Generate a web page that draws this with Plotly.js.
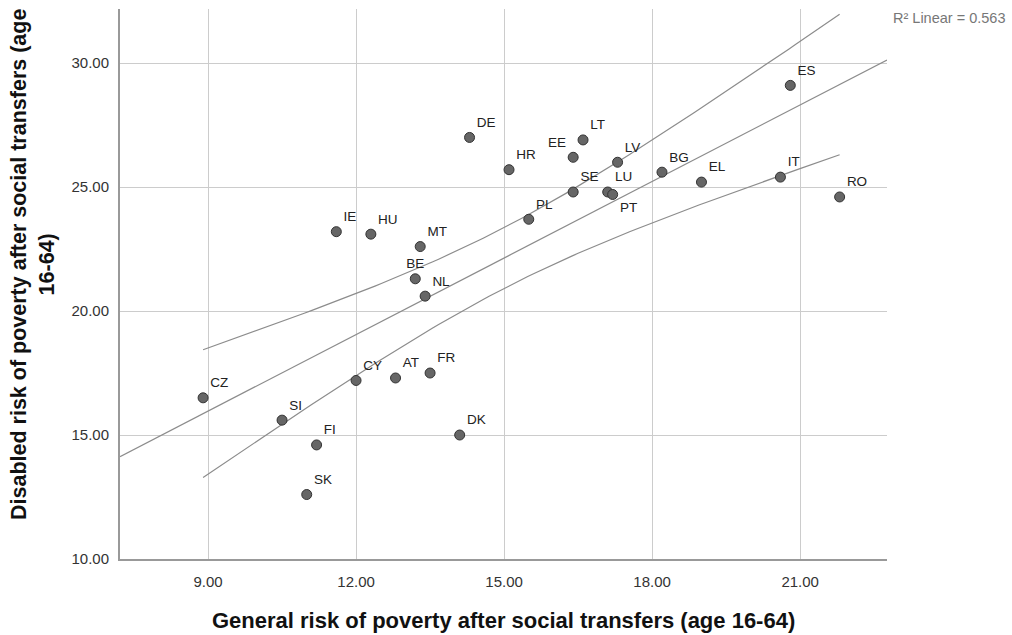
<!DOCTYPE html>
<html>
<head>
<meta charset="utf-8">
<script src="https://cdn.plot.ly/plotly-3.0.1.min.js"></script>
<style>html,body{margin:0;padding:0;background:#fff}#chart{width:1012px;height:635px}</style>
</head>
<body>
<div id="chart"></div>
<script>
const countries = ["CZ","SI","FI","SK","CY","AT","FR","DK","NL","BE","MT","IE","HU","DE","HR","EE","LT","LV","SE","PL","LU","PT","BG","EL","IT","ES","RO"];
const generalRisk = [8.9,10.5,11.2,11.0,12.0,12.8,13.5,14.1,13.4,13.2,13.3,11.6,12.3,14.3,15.1,16.4,16.6,17.3,16.4,15.5,17.1,17.2,18.2,19.0,20.6,20.8,21.8];
const disabledRisk = [16.5,15.6,14.6,12.6,17.2,17.3,17.5,15.0,20.6,21.3,22.6,23.2,23.1,27.0,25.7,26.2,26.9,26.0,24.8,23.7,24.8,24.7,25.6,25.2,25.4,29.1,24.6];
const labelPos = {PT:"bottom right", BE:"top center", EE:"top left"};
const xTicks = [9,12,15,18,21];
const yTicks = [10,15,20,25,30];
const xRange = [7.216, 22.76];
const yRange = [10, 32.18];

// least squares fit & 95% CI for mean
const n = generalRisk.length;
const xbar = generalRisk.reduce((a,b)=>a+b,0)/n;
const ybar = disabledRisk.reduce((a,b)=>a+b,0)/n;
let sxx=0, sxy=0;
for (let i=0;i<n;i++){ sxx += (generalRisk[i]-xbar)**2; sxy += (generalRisk[i]-xbar)*(disabledRisk[i]-ybar); }
const b1 = sxy/sxx, b0 = ybar - b1*xbar;
let sse=0; for (let i=0;i<n;i++){ sse += (disabledRisk[i]-b0-b1*generalRisk[i])**2; }
const s = Math.sqrt(sse/(n-2));
const tcrit = 2.060;
const xmin = Math.min(...generalRisk), xmax = Math.max(...generalRisk);
const bx=[], up=[], lo=[];
for (let k=0;k<=100;k++){
  const x = xmin + (xmax-xmin)*k/100;
  const h = tcrit*s*Math.sqrt(1/n + (x-xbar)**2/sxx);
  bx.push(x); up.push(b0+b1*x+h); lo.push(b0+b1*x-h);
}
const fx = [xRange[0], xRange[1]];
const fy = fx.map(x=>b0+b1*x);

const FONT = "Liberation Sans, Arial, sans-serif";
const lineStyle = {color:"#8c8c8c", width:1.2};
const traces = [
  {x:fx, y:fy, mode:"lines", line:lineStyle, hoverinfo:"skip"},
  {x:bx, y:up, mode:"lines", line:lineStyle, hoverinfo:"skip"},
  {x:bx, y:lo, mode:"lines", line:lineStyle, hoverinfo:"skip"},
  {x:generalRisk, y:disabledRisk, mode:"markers+text", text:countries,
   textposition: countries.map(c=>labelPos[c]||"top right"),
   textfont:{family:FONT, size:13.5, color:"#222"},
   marker:{size:10, color:"#666666", line:{color:"#333333", width:1}},
   cliponaxis:false}
];
const layout = {
  width:1012, height:635,
  margin:{l:120, r:125, t:9, b:76},
  paper_bgcolor:"#fff", plot_bgcolor:"#fff",
  showlegend:false,
  font:{family:FONT, color:"#222"},
  xaxis:{range:xRange, tickvals:xTicks, tickformat:".2f",
    showgrid:true, gridcolor:"#cccccc", gridwidth:1, zeroline:false,
    showline:true, linecolor:"#999", linewidth:2, ticks:"", ticklabelstandoff:8,
    tickfont:{size:15, color:"#333"}},
  yaxis:{range:yRange, tickvals:yTicks, tickformat:".2f",
    showgrid:true, gridcolor:"#cccccc", gridwidth:1, zeroline:false,
    showline:true, linecolor:"#999", linewidth:2, ticks:"", ticklabelstandoff:6,
    tickfont:{size:15, color:"#333"}},
  annotations:[
    {xref:"paper", yref:"paper", x:1.005, y:1, yshift:-9, xanchor:"left", yanchor:"middle",
     text:"R² Linear = 0.563", showarrow:false, font:{size:14.5, color:"#777"}},
    {xref:"paper", yref:"paper", x:0.5, y:0, yshift:-61, xanchor:"center", yanchor:"middle",
     text:"<b>General risk of poverty after social transfers (age 16-64)</b>", showarrow:false,
     font:{size:22, color:"#111"}},
    {xref:"paper", yref:"paper", x:0, xshift:-87, y:0.5345, xanchor:"center", yanchor:"middle",
     textangle:-90, text:"<b>Disabled risk of poverty after social transfers (age<br>16-64)</b>", showarrow:false,
     font:{size:21.5, color:"#111"}}
  ]
};
Plotly.newPlot("chart", traces, layout, {displayModeBar:false, staticPlot:true});
</script>
</body>
</html>
